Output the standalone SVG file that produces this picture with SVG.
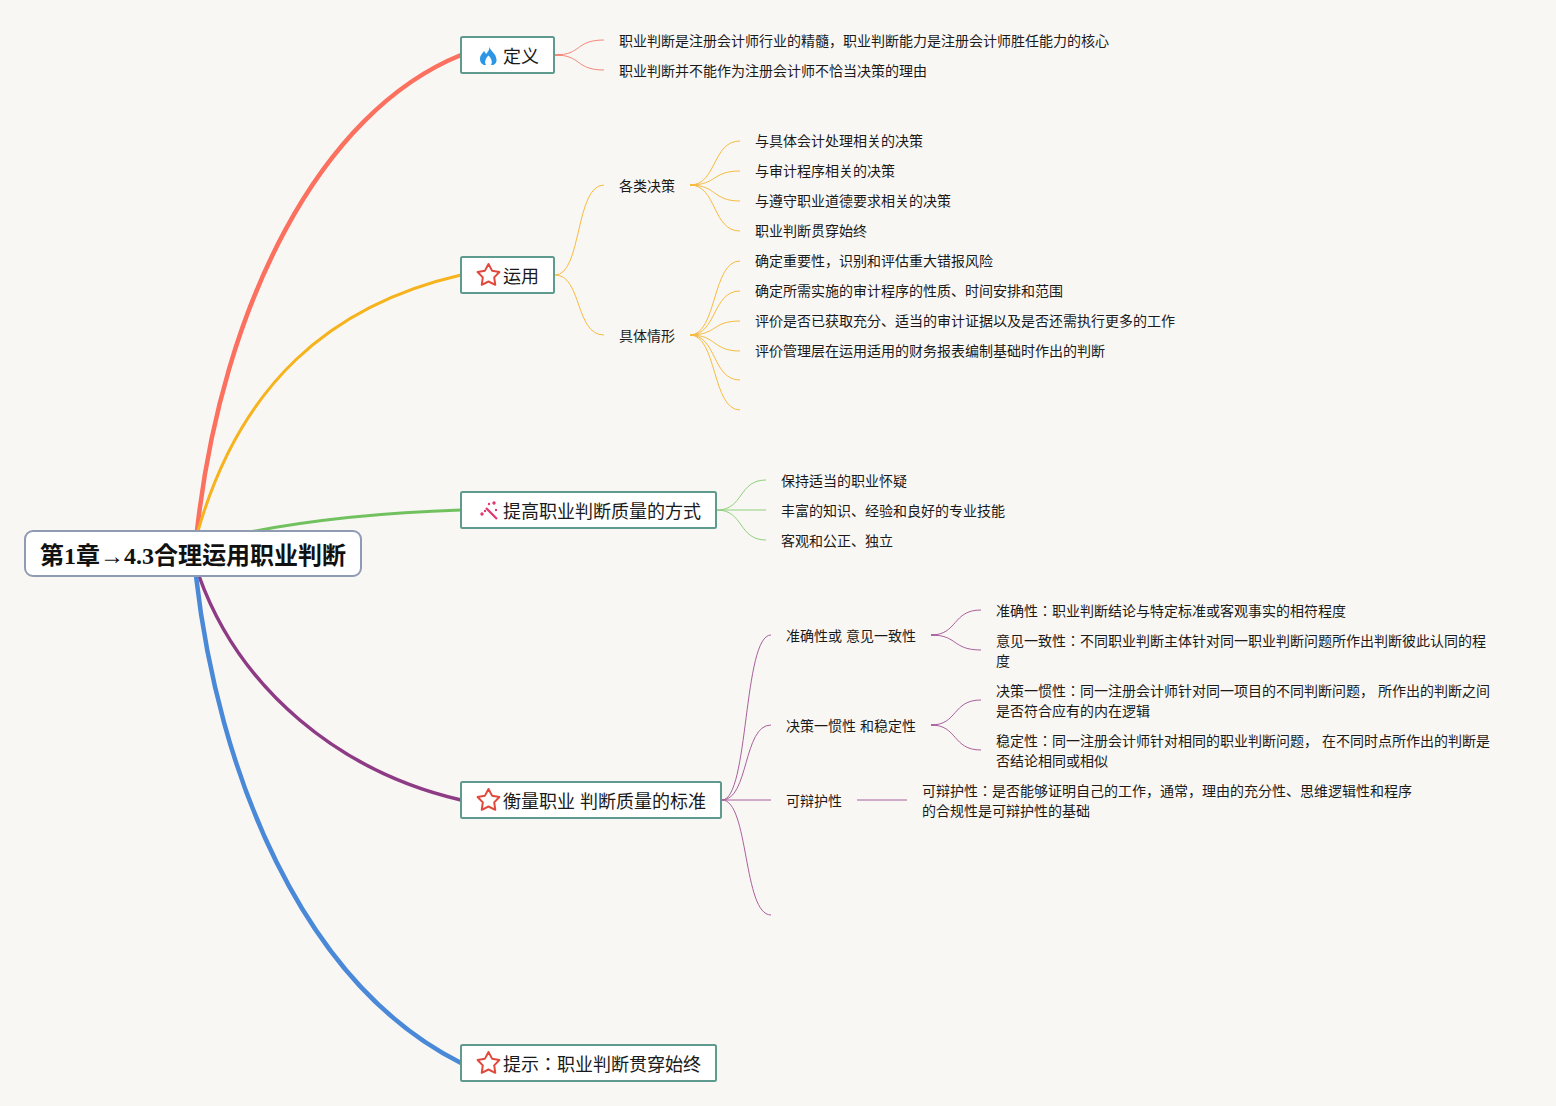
<svg xmlns="http://www.w3.org/2000/svg" width="1556" height="1106" viewBox="0 0 1556 1106">
<style>
text{font-family:"Liberation Sans","Noto Sans CJK JP",sans-serif;fill:#1a1a1a}
.leaf{font-size:14px}
.branch{font-size:18px}
.root{font-family:"Liberation Serif","Noto Sans CJK JP",serif;font-size:24px;font-weight:700;fill:#111}
.box{fill:#fff;stroke:#5f9a8f;stroke-width:2}
.rootbox{fill:#fff;stroke:#8f9ab3;stroke-width:2}
.m{fill:none}
.s{fill:none;stroke-width:1}
.red{stroke:#f5877a}.yel{stroke:#f6bb3f}.grn{stroke:#8fd07c}.pur{stroke:#a8609c}
.star{fill:#fff;stroke:#e0493b;stroke-width:2;stroke-linejoin:round}
</style>
<defs>
<path id="star" class="star" d="M0,-11.500 L3.530,-4.850 L10.900,-3.550 L5.700,1.850 L6.760,9.300 L0,6 L-6.760,9.300 L-5.700,1.850 L-10.900,-3.550 L-3.530,-4.850 Z"/>
</defs>
<rect width="1556" height="1106" fill="#f9f7f4"/>
<g id="connectors">
<path class="m" stroke="#fb705e" stroke-width="4.500" d="M197 531C222 305 320 112 461 55"/>
<path class="m" stroke="#f6b31d" stroke-width="3" d="M198 531C240 385 330 305 461 275"/>
<path class="m" stroke="#71c25f" stroke-width="3" d="M235 535C320 517 400 512 461 510"/>
<path class="m" stroke="#8e3b85" stroke-width="3.500" d="M199 576C240 690 340 772 461 800"/>
<path class="m" stroke="#4a88d8" stroke-width="4.500" d="M196 576C218 770 300 982 461 1063"/>
<g class="s red">
<path d="M555 55C582 55 575 40 604 40"/><path d="M555 55C582 55 575 70 604 70"/>
<path d="M555 55h6" stroke-width="2"/>
</g>
<g class="s yel">
<path d="M555 275C582 275 575 185 604 185"/><path d="M555 275C582 275 575 335 604 335"/>
<path d="M690 185C717 185 712 141 740 141"/><path d="M690 185C717 185 712 171 740 171"/><path d="M690 185C717 185 712 201 740 201"/><path d="M690 185C717 185 712 231 740 231"/>
<path d="M690 335C717 335 712 261 740 261"/><path d="M690 335C717 335 712 291 740 291"/><path d="M690 335C717 335 712 321 740 321"/><path d="M690 335C717 335 712 351 740 351"/><path d="M690 335C717 335 712 380 740 380"/><path d="M690 335C717 335 712 410 740 410"/>
<path d="M690 185h7M690 335h7" stroke-width="2"/>
</g>
<g class="s grn">
<path d="M717 510C744 510 738 480 766 480"/><path d="M717 510H766"/><path d="M717 510C744 510 738 540 766 540"/>
</g>
<g class="s pur">
<path d="M722 800C749 800 743 635 771 635"/><path d="M722 800C749 800 743 725 771 725"/><path d="M722 800H771"/><path d="M722 800C749 800 743 915 771 915"/>
<path d="M931 635C958 635 952 610 981 610"/><path d="M931 635C958 635 952 650 981 650"/>
<path d="M931 725C958 725 952 700 981 700"/><path d="M931 725C958 725 952 750 981 750"/>
<path d="M857 800H907"/>
<path d="M931 635h6M931 725h6" stroke-width="1.500"/>
</g>
</g>
<g id="root"><rect class="rootbox" x="25" y="531" width="336" height="45" rx="8"/><text class="root" x="40" y="564">第1章→4.3合理运用职业判断</text></g>
<g id="node-define"><rect class="box" x="461" y="37" width="93" height="36" rx="1.500"/>
<path fill="#2b96e6" d="M489 46C490 51 496 53 496.500 59.500C497 63 494 65.500 491 65C493 62 491 58 488.500 55.500C486 58 484 62 486 65C483 65.500 480 63 480 59C480 55 483 53 484 51C485 52 485.500 53 486 54C488 52 490 49 489 46Z"/>
<text class="branch" x="503" y="63">定义</text></g>
<g id="node-use"><rect class="box" x="461" y="257" width="93" height="36" rx="1.500"/><use href="#star" x="488.500" y="275.500"/><text class="branch" x="503" y="283">运用</text></g>
<g id="node-methods"><rect class="box" x="461" y="492" width="255" height="36" rx="1.500"/>
<g stroke="#e0386f" fill="#e0386f"><path d="M486 508L497 519" stroke-width="2.200"/><circle cx="482" cy="514" r="1.700" stroke="none"/><circle cx="485" cy="511" r="1.200" stroke="none"/><circle cx="494" cy="503" r="1.700" stroke="none"/><circle cx="496" cy="510" r="1.200" stroke="none"/><circle cx="489" cy="504" r="1.200" stroke="none"/></g>
<text class="branch" x="503" y="518">提高职业判断质量的方式</text></g>
<g id="node-standard"><rect class="box" x="461" y="782" width="260" height="36" rx="1.500"/><use href="#star" x="488.500" y="800.500"/><text class="branch" x="503" y="808">衡量职业 判断质量的标准</text></g>
<g id="node-tip"><rect class="box" x="461" y="1045" width="255" height="36" rx="1.500"/><use href="#star" x="488.500" y="1063.500"/><text class="branch" x="503" y="1071">提示：职业判断贯穿始终</text></g>
<g id="labels" class="leaf">
<text x="619" y="46">职业判断是注册会计师行业的精髓，职业判断能力是注册会计师胜任能力的核心</text>
<text x="619" y="76">职业判断并不能作为注册会计师不恰当决策的理由</text>
<text x="619" y="191">各类决策</text>
<text x="755" y="146">与具体会计处理相关的决策</text>
<text x="755" y="176">与审计程序相关的决策</text>
<text x="755" y="206">与遵守职业道德要求相关的决策</text>
<text x="755" y="236">职业判断贯穿始终</text>
<text x="619" y="341">具体情形</text>
<text x="755" y="266">确定重要性，识别和评估重大错报风险</text>
<text x="755" y="296">确定所需实施的审计程序的性质、时间安排和范围</text>
<text x="755" y="326">评价是否已获取充分、适当的审计证据以及是否还需执行更多的工作</text>
<text x="755" y="356">评价管理层在运用适用的财务报表编制基础时作出的判断</text>
<text x="781" y="486">保持适当的职业怀疑</text>
<text x="781" y="516">丰富的知识、经验和良好的专业技能</text>
<text x="781" y="546">客观和公正、独立</text>
<text x="786" y="641">准确性或 意见一致性</text>
<text x="786" y="731">决策一惯性 和稳定性</text>
<text x="786" y="806">可辩护性</text>
<text x="996" y="616">准确性：职业判断结论与特定标准或客观事实的相符程度</text>
<text x="996" y="646">意见一致性：不同职业判断主体针对同一职业判断问题所作出判断彼此认同的程</text>
<text x="996" y="666">度</text>
<text x="996" y="696">决策一惯性：同一注册会计师针对同一项目的不同判断问题， 所作出的判断之间</text>
<text x="996" y="716">是否符合应有的内在逻辑</text>
<text x="996" y="746">稳定性：同一注册会计师针对相同的职业判断问题， 在不同时点所作出的判断是</text>
<text x="996" y="766">否结论相同或相似</text>
<text x="922" y="796">可辩护性：是否能够证明自己的工作，通常，理由的充分性、思维逻辑性和程序</text>
<text x="922" y="816">的合规性是可辩护性的基础</text>
</g>
</svg>
